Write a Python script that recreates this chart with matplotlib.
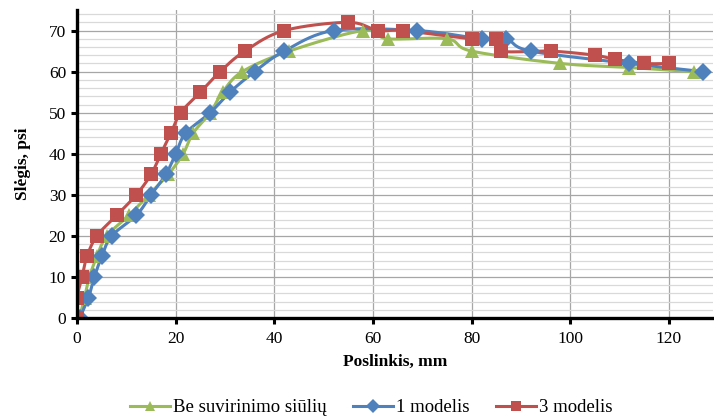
import numpy as np
import matplotlib
matplotlib.use("Agg")
import matplotlib.pyplot as plt
from matplotlib.ticker import MultipleLocator

plt.rcParams['font.family'] = ['Liberation Serif', 'DejaVu Serif']

# Displacement (mm) and pressure (psi) for each specimen
green_x = [0.5, 1.5, 2.5, 4, 6, 10.5, 14.5, 18.5, 21.5, 23.5, 27, 29.5, 33.5, 43, 58, 63, 75, 80, 98, 112, 125]
green_y = [0, 5, 10, 15, 20, 25, 30, 35, 40, 45, 50, 55, 60, 65, 70, 68, 68, 65, 62, 61, 60]

blue_x = [0.5, 2.3, 3.5, 5, 7, 12, 15, 18, 20, 22, 27, 31, 36, 42, 52, 69, 82, 87, 92, 112, 127]
blue_y = [0, 5, 10, 15, 20, 25, 30, 35, 40, 45, 50, 55, 60, 65, 70, 70, 68, 68, 65, 62, 60]

red_x = [0, 0, 1, 2, 4, 8, 12, 15, 17, 19, 21, 25, 29, 34, 42, 55, 61, 66, 80, 85, 86, 96, 105, 109, 115, 120]
red_y = [0, 5, 10, 15, 20, 25, 30, 35, 40, 45, 50, 55, 60, 65, 70, 72, 70, 70, 68, 68, 65, 65, 64, 63, 62, 62]

series = [
    ("Be suvirinimo siūlių", green_x, green_y, "#9BBB59", "^", 10.5),
    ("1 modelis", blue_x, blue_y, "#4F81BD", "D", 9),
    ("3 modelis", red_x, red_y, "#C0504D", "s", 10.5),
]


def smooth(x, y, steps=20):
    """Cardinal (Bezier) spline through the points, like a smoothed line chart."""
    p = np.column_stack([x, y]).astype(float)
    n = len(p)
    out = [p[0]]
    t = np.linspace(0, 1, steps)[1:]
    for i in range(n - 1):
        p0 = p[i - 1] if i > 0 else p[i]
        p1, p2 = p[i], p[i + 1]
        p3 = p[i + 2] if i + 2 < n else p[i + 1]
        c1 = p1 + (p2 - p0) / 6.0
        c2 = p2 - (p3 - p1) / 6.0
        seg = ((1 - t) ** 3)[:, None] * p1 + (3 * (1 - t) ** 2 * t)[:, None] * c1 \
            + (3 * (1 - t) * t ** 2)[:, None] * c2 + (t ** 3)[:, None] * p2
        out.extend(seg)
    out = np.array(out)
    return out[:, 0], out[:, 1]


fig = plt.figure(figsize=(7.14, 4.18), dpi=100)
ax = fig.add_axes([0.108, 0.239, 0.891, 0.737])

for label, x, y, color, marker, ms in series:
    sx, sy = smooth(x, y)
    ax.plot(sx, sy, color=color, lw=2.2, zorder=3, solid_capstyle='round')
    ax.plot(x, y, linestyle='none', marker=marker, color=color, markersize=ms,
            markeredgewidth=0, zorder=4)
    ax.plot([], [], color=color, lw=2.2, marker=marker, markersize=7,
            markeredgewidth=0, label=label)

ax.set_xlim(0, 129)
ax.set_ylim(0, 75)
ax.xaxis.set_major_locator(MultipleLocator(20))
ax.yaxis.set_major_locator(MultipleLocator(10))
ax.yaxis.set_minor_locator(MultipleLocator(2))

ax.grid(which='major', axis='both', color='#A6A6A6', lw=0.9, zorder=0)
ax.grid(which='minor', axis='y', color='#D9D9D9', lw=0.9, zorder=0)
ax.set_axisbelow(True)

for s in ('top', 'right'):
    ax.spines[s].set_visible(False)
for s in ('left', 'bottom'):
    ax.spines[s].set_linewidth(2.4)
    ax.spines[s].set_color('black')
    ax.spines[s].set_zorder(5)

ax.tick_params(which='major', direction='out', length=4, width=2.2, labelsize=12.5, pad=4)
ax.tick_params(which='minor', length=0)
ax.tick_params(axis='x', pad=5)

ax.set_xlabel("Poslinkis, mm", fontsize=12.5, fontweight='bold', labelpad=5)
ax.set_ylabel("Slėgis, psi", fontsize=12.5, fontweight='bold', labelpad=13)

for lab in ax.get_xticklabels() + ax.get_yticklabels():
    lab.set_clip_on(False)

fig.legend(loc='center', bbox_to_anchor=(0.52, 0.025), ncol=3, frameon=False,
           fontsize=13.5, handlelength=2.1, handletextpad=0.15, columnspacing=1.45,
           borderpad=0)

fig.savefig("out.png", dpi=100)
